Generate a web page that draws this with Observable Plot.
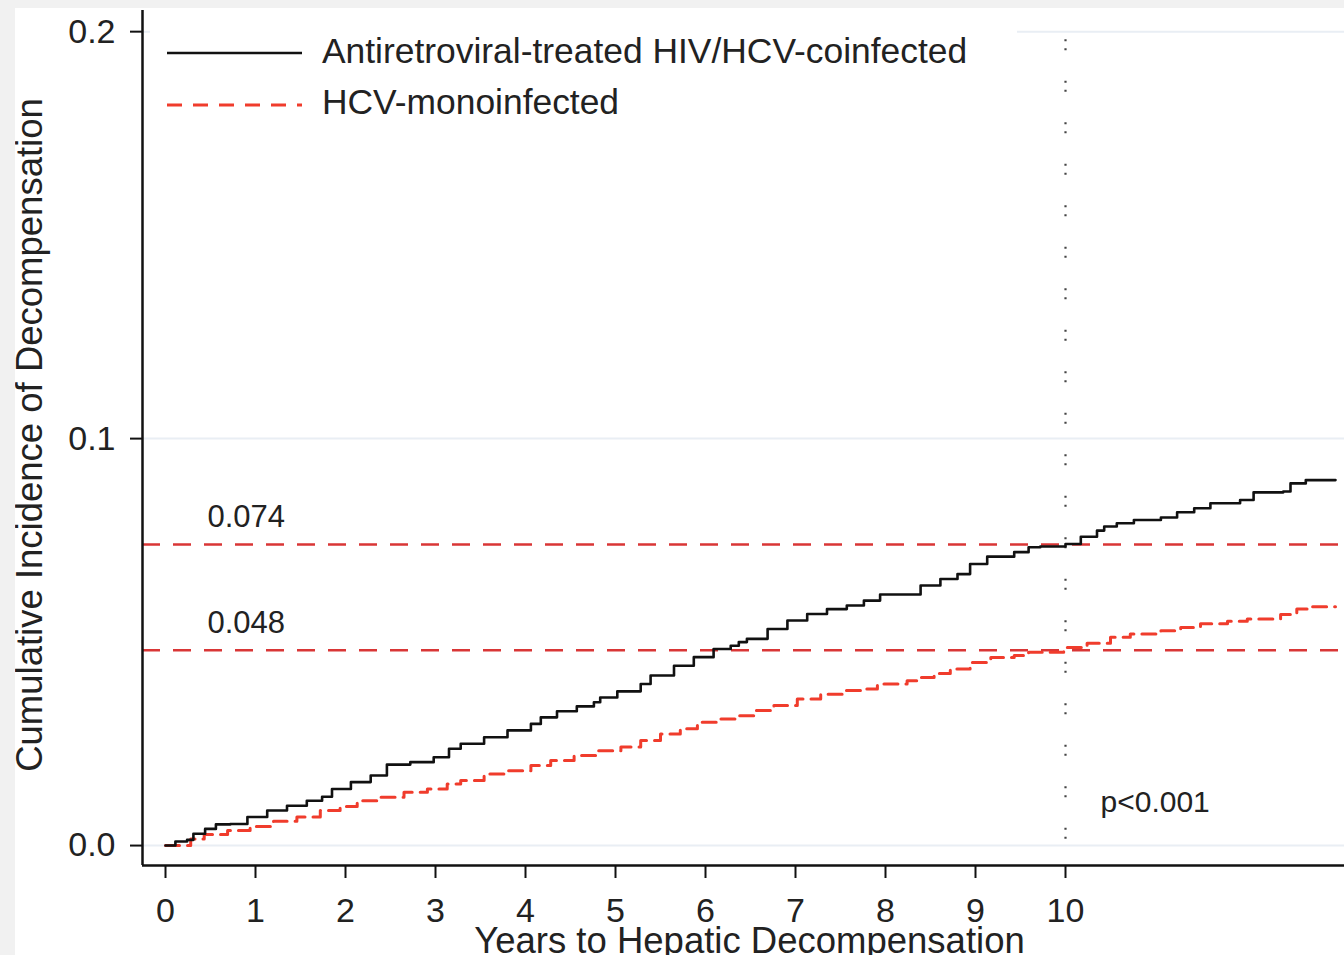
<!DOCTYPE html>
<html><head><meta charset="utf-8">
<script src="https://cdn.jsdelivr.net/npm/d3@7"></script>
<script src="https://cdn.jsdelivr.net/npm/@observablehq/plot@0.6"></script>
<style>
body{margin:0;background:#fff;}
#wrap{position:relative;width:1344px;height:955px;overflow:hidden;font-family:"Liberation Sans",Arial,sans-serif;background:#fff;}
.band{position:absolute;background:#f1f1f1;z-index:3;}
#legend{position:absolute;left:150px;top:12px;z-index:2;}
</style></head><body><div id="wrap"></div>
<script>
// Cumulative incidence (years, incidence)
const coinfected = [[0,0],[0.11,0.001],[0.24,0.0014],[0.31,0.0029],[0.44,0.0041],[0.56,0.0052],[0.72,0.0053],[0.91,0.007],[1.13,0.0086],[1.35,0.0098],[1.57,0.011],[1.74,0.012],[1.85,0.0139],[2.06,0.0156],[2.28,0.0172],[2.46,0.0199],[2.72,0.0205],[2.98,0.0217],[3.15,0.0238],[3.28,0.025],[3.54,0.0266],[3.80,0.0283],[4.06,0.0299],[4.17,0.0315],[4.35,0.033],[4.57,0.0342],[4.76,0.0352],[4.83,0.0364],[5.02,0.0379],[5.28,0.0397],[5.39,0.0418],[5.65,0.0442],[5.87,0.0463],[6.09,0.0483],[6.28,0.0491],[6.37,0.05],[6.46,0.0508],[6.69,0.0532],[6.91,0.0553],[7.13,0.0569],[7.35,0.0581],[7.57,0.059],[7.76,0.0602],[7.94,0.0617],[8.24,0.0617],[8.39,0.0639],[8.61,0.0655],[8.80,0.0667],[8.94,0.0692],[9.13,0.071],[9.43,0.0721],[9.59,0.0733],[9.72,0.0735],[10.0,0.0741],[10.17,0.0759],[10.35,0.0774],[10.43,0.0784],[10.57,0.0792],[10.76,0.08],[11.06,0.0806],[11.24,0.0819],[11.43,0.0829],[11.61,0.0841],[11.94,0.0849],[12.09,0.0868],[12.42,0.087],[12.5,0.089],[12.67,0.0898],[13.0,0.0898]];
const monoinfected = [[0,0],[0.28,0.0016],[0.43,0.0027],[0.69,0.0037],[0.94,0.0047],[1.2,0.006],[1.46,0.007],[1.72,0.0086],[1.94,0.0096],[2.13,0.011],[2.39,0.0119],[2.65,0.0131],[2.91,0.0139],[3.13,0.0151],[3.28,0.016],[3.54,0.0176],[3.80,0.0184],[4.06,0.0197],[4.28,0.0209],[4.54,0.0221],[4.80,0.0233],[5.06,0.0242],[5.28,0.0258],[5.5,0.0274],[5.72,0.0287],[5.91,0.0303],[6.13,0.0311],[6.37,0.0319],[6.54,0.0332],[6.76,0.0344],[7.02,0.036],[7.28,0.0372],[7.54,0.0381],[7.76,0.0385],[7.91,0.0397],[8.24,0.0405],[8.39,0.0413],[8.54,0.0423],[8.72,0.0434],[8.94,0.045],[9.17,0.0462],[9.43,0.0467],[9.59,0.0475],[9.98,0.0487],[10.24,0.0497],[10.5,0.0512],[10.72,0.052],[11.06,0.0528],[11.28,0.0536],[11.5,0.0545],[11.8,0.0551],[12.02,0.0557],[12.39,0.0568],[12.57,0.0581],[12.72,0.0587],[13.0,0.0587]];
const seriesNames = ["Antiretroviral-treated HIV/HCV-coinfected", "HCV-monoinfected"];
const refValues = [0.074, 0.048];
const cutoffYear = 10;
const pLabel = "p<0.001";
const xTicks = [0,1,2,3,4,5,6,7,8,9,10];
const yTicks = [0, 0.1, 0.2];
const xDomain = [-0.2556, 13.1];
const yDomain = [-0.0049, 0.2052];
const xTitle = "Years to Hepatic Decompensation";
const yTitle = "Cumulative Incidence of Decompensation";

const black = "#111", red = "#f03c2c", refRed = "#d93636";
const font = "Liberation Sans, Arial, sans-serif";

const chart = Plot.plot({
  width: 1344, height: 955,
  marginLeft: 142, marginRight: 0, marginTop: 10, marginBottom: 90,
  style: {fontFamily: font, background: "transparent", color: "#222", overflow: "visible"},
  x: {domain: xDomain},
  y: {domain: yDomain},
  marks: [
    Plot.ruleY(yTicks, {stroke: "#e9eef4", strokeWidth: 2}),
    Plot.ruleY(refValues, {stroke: refRed, strokeWidth: 2.5, strokeDasharray: "18,13"}),
    Plot.ruleX([cutoffYear], {y1: yTicks[2], y2: yDomain[0], stroke: "#444", strokeWidth: 2.2, strokeDasharray: "2,7,2,30.5", strokeDashoffset: -8}),
    Plot.line(monoinfected, {x: d => d[0], y: d => d[1], curve: "step-after", stroke: red, strokeWidth: 3, strokeDasharray: "14,8"}),
    Plot.line(coinfected, {x: d => d[0], y: d => d[1], curve: "step-after", stroke: black, strokeWidth: 2.6}),
    Plot.text(refValues, {y: d => d, text: d => d.toFixed(3), frameAnchor: "left", dx: 65, dy: -17, textAnchor: "start", lineAnchor: "bottom", fontSize: 31, fill: "#222"}),
    Plot.text([pLabel], {x: () => cutoffYear, text: d => d, frameAnchor: "bottom", dx: 35, dy: -54, textAnchor: "start", lineAnchor: "bottom", fontSize: 30, fill: "#222"}),
    Plot.ruleX([xDomain[0]], {stroke: black, strokeWidth: 2.5}),
    Plot.ruleY([yDomain[0]], {stroke: black, strokeWidth: 2.5}),
    Plot.axisX(xTicks, {tickSize: 13, tickPadding: 19, fontSize: 34, strokeWidth: 2, stroke: black, fill: "#222", label: null}),
    Plot.axisY(yTicks, {tickSize: 12, tickPadding: 15, fontSize: 34, strokeWidth: 2, stroke: black, fill: "#222", tickFormat: d3.format(".1f"), label: null}),
    Plot.text([xTitle], {text: d => d, frameAnchor: "bottom", dx: 6, dy: 87, lineAnchor: "bottom", textAnchor: "middle", fontSize: 36.5, fill: "#222"}),
    Plot.text([yTitle], {text: d => d, frameAnchor: "left", rotate: -90, dx: -112, dy: -3, lineAnchor: "middle", textAnchor: "middle", fontSize: 36.5, fill: "#222"})
  ]
});

const wrap = document.getElementById("wrap");
wrap.appendChild(chart);

// legend overlay
const ns = "http://www.w3.org/2000/svg";
const leg = document.createElementNS(ns, "svg");
leg.setAttribute("id", "legend");
leg.setAttribute("width", 867);
leg.setAttribute("height", 118);
leg.innerHTML = `
<rect x="0" y="0" width="867" height="118" fill="#fff"/>
<line x1="17" x2="152" y1="41" y2="41" stroke="${black}" stroke-width="2.6"/>
<text x="172" y="51" font-family="${font}" font-size="35.4" fill="#222">${seriesNames[0]}</text>
<line x1="17" x2="152" y1="93" y2="93" stroke="${red}" stroke-width="3" stroke-dasharray="15,11"/>
<text x="172" y="102" font-family="${font}" font-size="35.4" fill="#222">${seriesNames[1]}</text>`;
wrap.appendChild(leg);

const b1 = document.createElement("div"); b1.className = "band";
b1.style.cssText = "left:0;top:0;width:1344px;height:8px;";
const b2 = document.createElement("div"); b2.className = "band";
b2.style.cssText = "left:0;top:0;width:15px;height:955px;";
wrap.appendChild(b1); wrap.appendChild(b2);
chart.style.position = "absolute"; chart.style.left = "0"; chart.style.top = "0";
</script></body></html>
